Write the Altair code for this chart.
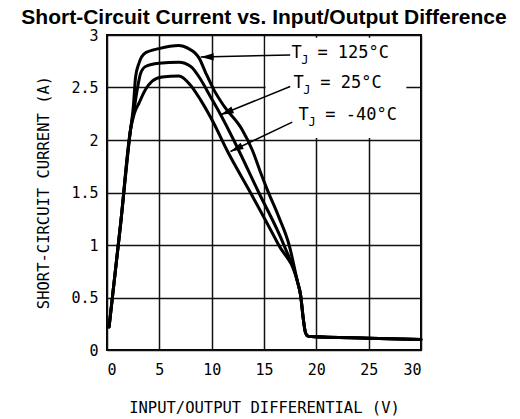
import altair as alt
import pandas as pd

# ---- data ----
tail_x = [18.2, 18.5, 18.75, 18.95, 19.15, 19.5, 25.0, 30.0]
tail_y = [0.65, 0.52, 0.30, 0.17, 0.135, 0.128, 0.112, 0.10]

x_125 = [0.2, 1.3, 2.25, 2.5, 2.73, 3.05, 3.68, 4.95, 6.86, 7.8, 8.4, 8.8, 9.43, 10.2, 11.2, 12.9, 13.9, 14.6, 15.3, 16.4, 17.4]
y_125 = [0.22, 1.2, 2.10, 2.3, 2.60, 2.73, 2.83, 2.87, 2.90, 2.87, 2.83, 2.78, 2.64, 2.48, 2.32, 2.10, 1.90, 1.71, 1.53, 1.27, 1.0]

x_25 = [0.2, 1.3, 2.25, 2.6, 2.89, 3.2, 3.68, 4.95, 6.86, 8.0, 8.8, 9.9, 10.86, 12.1, 14.5, 16.9]
y_25 = [0.22, 1.2, 2.10, 2.3, 2.48, 2.63, 2.70, 2.73, 2.74, 2.70, 2.60, 2.41, 2.24, 2.0, 1.5, 1.0]

x_m40 = [0.2, 1.3, 2.25, 2.6, 3.05, 3.68, 4.32, 5.27, 6.86, 8.0, 8.95, 10.2, 11.45, 13.7, 16.4]
y_m40 = [0.22, 1.2, 2.10, 2.25, 2.35, 2.48, 2.56, 2.60, 2.61, 2.52, 2.38, 2.16, 1.905, 1.5, 1.0]

series = ["125", "25", "-40"]
series_x = [x_125, x_25, x_m40]
series_y = [y_125, y_25, y_m40]

# annotation labels
label_values = ["= 125°C", "= 25°C", "= -40°C"]
label_T_x = [17.62, 17.81, 18.29]
label_y = [2.826, 2.54, 2.238]
label_eq_x = [20.1, 20.38, 20.86]

# arrows (tail -> tip) and head rotation
arrow_x = [17.5, 17.5, 17.7]
arrow_y = [2.81, 2.51, 2.17]
arrow_x2 = [8.95, 10.86, 11.8]
arrow_y2 = [2.79, 2.24, 1.89]
arrow_angle = [269, 248, 244]

x_ticks = [0, 5, 10, 15, 20, 25, 30]
y_ticks = [0, 0.5, 1, 1.5, 2, 2.5, 3]

# ---- tables ----
rows = []
for name, xs, ys in zip(series, series_x, series_y):
    for i, (a, b) in enumerate(list(zip(xs, ys)) + list(zip(tail_x, tail_y))):
        rows.append({"series": name, "x": a, "y": b, "order": i})
curves = pd.DataFrame(rows)

arrows = pd.DataFrame({"x": arrow_x, "y": arrow_y, "x2": arrow_x2, "y2": arrow_y2,
                       "angle": arrow_angle})

texts_T = pd.DataFrame({"x": label_T_x, "y": label_y, "t": ["T"] * 3})
texts_J = pd.DataFrame({"x": [v + 0.95 for v in label_T_x],
                        "y": [v - 0.062 for v in label_y], "t": ["J"] * 3})
texts_V = pd.DataFrame({"x": label_eq_x, "y": label_y, "t": label_values})

box = pd.DataFrame({"x": [15.15], "x2": [28.6], "y": [2.02], "y2": [2.975]})

FONT = "DejaVu Sans Mono"

xscale = alt.Scale(domain=[0, 30], nice=False, zero=False)
yscale = alt.Scale(domain=[0, 3], nice=False, zero=False)
xaxis = alt.Axis(values=x_ticks, title="INPUT/OUTPUT DIFFERENTIAL (V)", grid=True,
                 ticks=False, domain=False, labelPadding=12, format="~g",
                 titleY=57, titleBaseline="middle", titlePadding=0)
yaxis = alt.Axis(values=y_ticks, title="SHORT-CIRCUIT CURRENT (A)", grid=True,
                 ticks=False, domain=False, labelPadding=9, format="~g",
                 titleX=-64, titleY=157, titleBaseline="middle", titleAngle=270)


def X(f):
    return alt.X(f, type="quantitative", scale=xscale, axis=xaxis)


def Y(f):
    return alt.Y(f, type="quantitative", scale=yscale, axis=yaxis)


box_layer = alt.Chart(box).mark_rect(fill="white").encode(
    x=X("x"), x2="x2", y=Y("y"), y2="y2")

lines = alt.Chart(curves).mark_line(color="black", strokeWidth=3,
                                    interpolate="monotone",
                                    strokeJoin="round", strokeCap="round").encode(
    x=X("x"), y=Y("y"), detail="series:N", order="order:Q")

rules = alt.Chart(arrows).mark_rule(color="black", strokeWidth=1.5).encode(
    x=X("x"), y=Y("y"), x2="x2", y2="y2")

heads = alt.Chart(arrows).mark_point(
    shape="M0,0L0.55,2L-0.55,2Z", filled=True, color="black", opacity=1,
    size=169, strokeWidth=0).encode(
    x=X("x2"), y=Y("y2"), angle=alt.Angle("angle:Q", scale=None))

tT = alt.Chart(texts_T).mark_text(font=FONT, fontSize=17, align="left",
                                  baseline="middle", color="black").encode(
    x=X("x"), y=Y("y"), text="t:N")
tJ = alt.Chart(texts_J).mark_text(font=FONT, fontSize=12, align="left",
                                  baseline="middle", color="black").encode(
    x=X("x"), y=Y("y"), text="t:N")
tV = alt.Chart(texts_V).mark_text(font=FONT, fontSize=17, align="left",
                                  baseline="middle", color="black").encode(
    x=X("x"), y=Y("y"), text="t:N")

chart = alt.layer(box_layer, lines, rules, heads, tT, tJ, tV).properties(
    width=314, height=315,
    autosize=alt.AutoSizeParams(type="none"),
    padding={"left": 99, "top": 27, "right": 90, "bottom": 68},
    title=alt.TitleParams("Short-Circuit Current vs. Input/Output Difference",
                          font="Liberation Sans", fontSize=21, fontWeight="bold",
                          color="black", anchor="middle", baseline="alphabetic",
                          offset=0, dy=17),
).configure_view(stroke="black", strokeWidth=2).configure_axis(
    gridColor="#111", gridWidth=1.5, gridOpacity=1,
    labelFont=FONT, labelFontSize=15, labelColor="black",
    titleFont=FONT, titleFontSize=15.5, titleFontWeight="normal", titleColor="black",
)

chart.save("out.html", embed_options={"renderer": "svg", "actions": False})
